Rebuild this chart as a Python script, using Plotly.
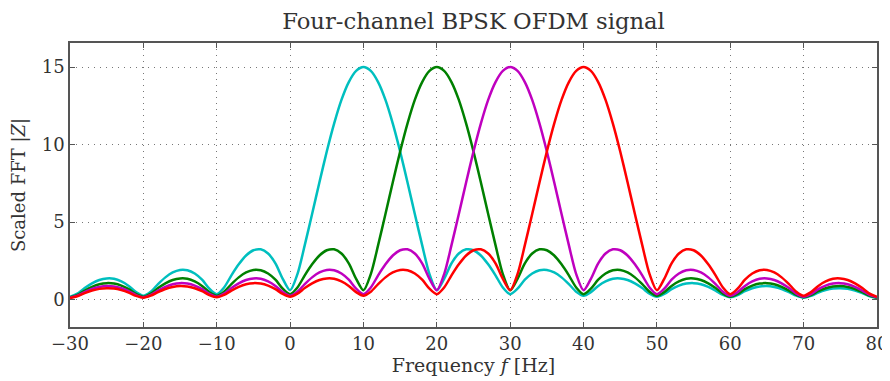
import plotly.graph_objects as go

freq = list(range(-30, 81))

ch1_cyan = [0.18, 0.38, 0.74, 1.04, 1.26, 1.36, 1.34, 1.17, 0.88, 0.48,
            0.25, 0.51, 1.00, 1.43, 1.75, 1.91, 1.89, 1.68, 1.28, 0.70,
            0.35, 0.78, 1.56, 2.27, 2.84, 3.18, 3.24, 2.97, 2.34, 1.34,
            0.60, 1.64, 3.51, 5.52, 7.57, 9.55, 11.35, 12.88, 14.03, 14.75,
            15.00, 14.75, 14.03, 12.88, 11.35, 9.55, 7.57, 5.52, 3.51, 1.64,
            0.60, 1.34, 2.34, 2.97, 3.24, 3.18, 2.84, 2.27, 1.56, 0.78,
            0.35, 0.70, 1.28, 1.68, 1.89, 1.91, 1.75, 1.43, 1.00, 0.51,
            0.25, 0.48, 0.88, 1.17, 1.34, 1.36, 1.26, 1.04, 0.74, 0.38,
            0.18, 0.36, 0.67, 0.90, 1.03, 1.06, 0.99, 0.82, 0.58, 0.30,
            0.15, 0.29, 0.54, 0.73, 0.84, 0.87, 0.81, 0.68, 0.48, 0.25,
            0.12, 0.24, 0.45, 0.61, 0.71, 0.73, 0.69, 0.58, 0.41, 0.21,
            0.10]

ch2_green = [0.15, 0.30, 0.58, 0.82, 0.99, 1.06, 1.03, 0.90, 0.67, 0.36,
             0.18, 0.38, 0.74, 1.04, 1.26, 1.36, 1.34, 1.17, 0.88, 0.48,
             0.25, 0.51, 1.00, 1.43, 1.75, 1.91, 1.89, 1.68, 1.28, 0.70,
             0.35, 0.78, 1.56, 2.27, 2.84, 3.18, 3.24, 2.97, 2.34, 1.34,
             0.60, 1.64, 3.51, 5.52, 7.57, 9.55, 11.35, 12.88, 14.03, 14.75,
             15.00, 14.75, 14.03, 12.88, 11.35, 9.55, 7.57, 5.52, 3.51, 1.64,
             0.60, 1.34, 2.34, 2.97, 3.24, 3.18, 2.84, 2.27, 1.56, 0.78,
             0.35, 0.70, 1.28, 1.68, 1.89, 1.91, 1.75, 1.43, 1.00, 0.51,
             0.25, 0.48, 0.88, 1.17, 1.34, 1.36, 1.26, 1.04, 0.74, 0.38,
             0.18, 0.36, 0.67, 0.90, 1.03, 1.06, 0.99, 0.82, 0.58, 0.30,
             0.15, 0.29, 0.54, 0.73, 0.84, 0.87, 0.81, 0.68, 0.48, 0.25,
             0.12]

ch3_magenta = [0.12, 0.25, 0.48, 0.68, 0.81, 0.87, 0.84, 0.73, 0.54, 0.29,
               0.15, 0.30, 0.58, 0.82, 0.99, 1.06, 1.03, 0.90, 0.67, 0.36,
               0.18, 0.38, 0.74, 1.04, 1.26, 1.36, 1.34, 1.17, 0.88, 0.48,
               0.25, 0.51, 1.00, 1.43, 1.75, 1.91, 1.89, 1.68, 1.28, 0.70,
               0.35, 0.78, 1.56, 2.27, 2.84, 3.18, 3.24, 2.97, 2.34, 1.34,
               0.60, 1.64, 3.51, 5.52, 7.57, 9.55, 11.35, 12.88, 14.03, 14.75,
               15.00, 14.75, 14.03, 12.88, 11.35, 9.55, 7.57, 5.52, 3.51, 1.64,
               0.60, 1.34, 2.34, 2.97, 3.24, 3.18, 2.84, 2.27, 1.56, 0.78,
               0.35, 0.70, 1.28, 1.68, 1.89, 1.91, 1.75, 1.43, 1.00, 0.51,
               0.25, 0.48, 0.88, 1.17, 1.34, 1.36, 1.26, 1.04, 0.74, 0.38,
               0.18, 0.36, 0.67, 0.90, 1.03, 1.06, 0.99, 0.82, 0.58, 0.30,
               0.15]

ch4_red = [0.10, 0.21, 0.41, 0.58, 0.69, 0.73, 0.71, 0.61, 0.45, 0.24,
           0.12, 0.25, 0.48, 0.68, 0.81, 0.87, 0.84, 0.73, 0.54, 0.29,
           0.15, 0.30, 0.58, 0.82, 0.99, 1.06, 1.03, 0.90, 0.67, 0.36,
           0.18, 0.38, 0.74, 1.04, 1.26, 1.36, 1.34, 1.17, 0.88, 0.48,
           0.25, 0.51, 1.00, 1.43, 1.75, 1.91, 1.89, 1.68, 1.28, 0.70,
           0.35, 0.78, 1.56, 2.27, 2.84, 3.18, 3.24, 2.97, 2.34, 1.34,
           0.60, 1.64, 3.51, 5.52, 7.57, 9.55, 11.35, 12.88, 14.03, 14.75,
           15.00, 14.75, 14.03, 12.88, 11.35, 9.55, 7.57, 5.52, 3.51, 1.64,
           0.60, 1.34, 2.34, 2.97, 3.24, 3.18, 2.84, 2.27, 1.56, 0.78,
           0.35, 0.70, 1.28, 1.68, 1.89, 1.91, 1.75, 1.43, 1.00, 0.51,
           0.25, 0.48, 0.88, 1.17, 1.34, 1.36, 1.26, 1.04, 0.74, 0.38,
           0.18]

x_tick_vals = [-30, -20, -10, 0, 10, 20, 30, 40, 50, 60, 70, 80]
x_tick_text = ["\u221230", "\u221220", "\u221210", "0", "10", "20", "30",
               "40", "50", "60", "70", "80"]
y_tick_vals = [0, 5, 10, 15]
y_tick_text = ["0", "5", "10", "15"]

series = [
    ("Channel 1", ch1_cyan, "#00BFBF"),
    ("Channel 2", ch2_green, "#008000"),
    ("Channel 3", ch3_magenta, "#BF00BF"),
    ("Channel 4", ch4_red, "#FF0000"),
]

FONT = "DejaVu Serif"
TXT = "#333333"

fig = go.Figure()
for name, vals, color in series:
    fig.add_trace(go.Scatter(
        x=freq, y=vals, mode="lines", name=name,
        line=dict(color=color, width=2.5, shape="spline", smoothing=0.8),
        showlegend=False,
    ))

axis_common = dict(
    showline=True, linecolor="#555555", linewidth=1.5, mirror="ticks",
    ticks="inside", ticklen=5, tickcolor="#555555", tickwidth=1,
    showgrid=True, gridcolor="#777777", griddash="1px,5px", gridwidth=1,
    zeroline=False, automargin=False,
    tickfont=dict(family=FONT, size=18, color=TXT),
)

# The page body has an 8px default margin, so the figure is sized and
# offset to land the plot area where the reference has it.
fig.update_layout(
    width=882, height=373,
    margin=dict(l=62, r=13, t=35, b=54),
    paper_bgcolor="white", plot_bgcolor="white",
    title=dict(text="Four-channel BPSK OFDM signal", xref="paper", x=0.5,
               xanchor="center", yref="container", y=0.985, yanchor="top",
               font=dict(family=FONT, size=22.7, color=TXT)),
    xaxis=dict(range=[-30, 80], tickvals=x_tick_vals, ticktext=x_tick_text,
               title=dict(text="Frequency <i>f</i> [Hz]", standoff=3,
                          font=dict(family=FONT, size=19, color=TXT)),
               **axis_common),
    yaxis=dict(range=[-1.77, 16.55], tickvals=y_tick_vals, ticktext=y_tick_text,
               title=dict(text="Scaled FFT |<i>Z</i>|", standoff=11,
                          font=dict(family=FONT, size=18, color=TXT)),
               **axis_common),
)

fig.write_html("out.html")
